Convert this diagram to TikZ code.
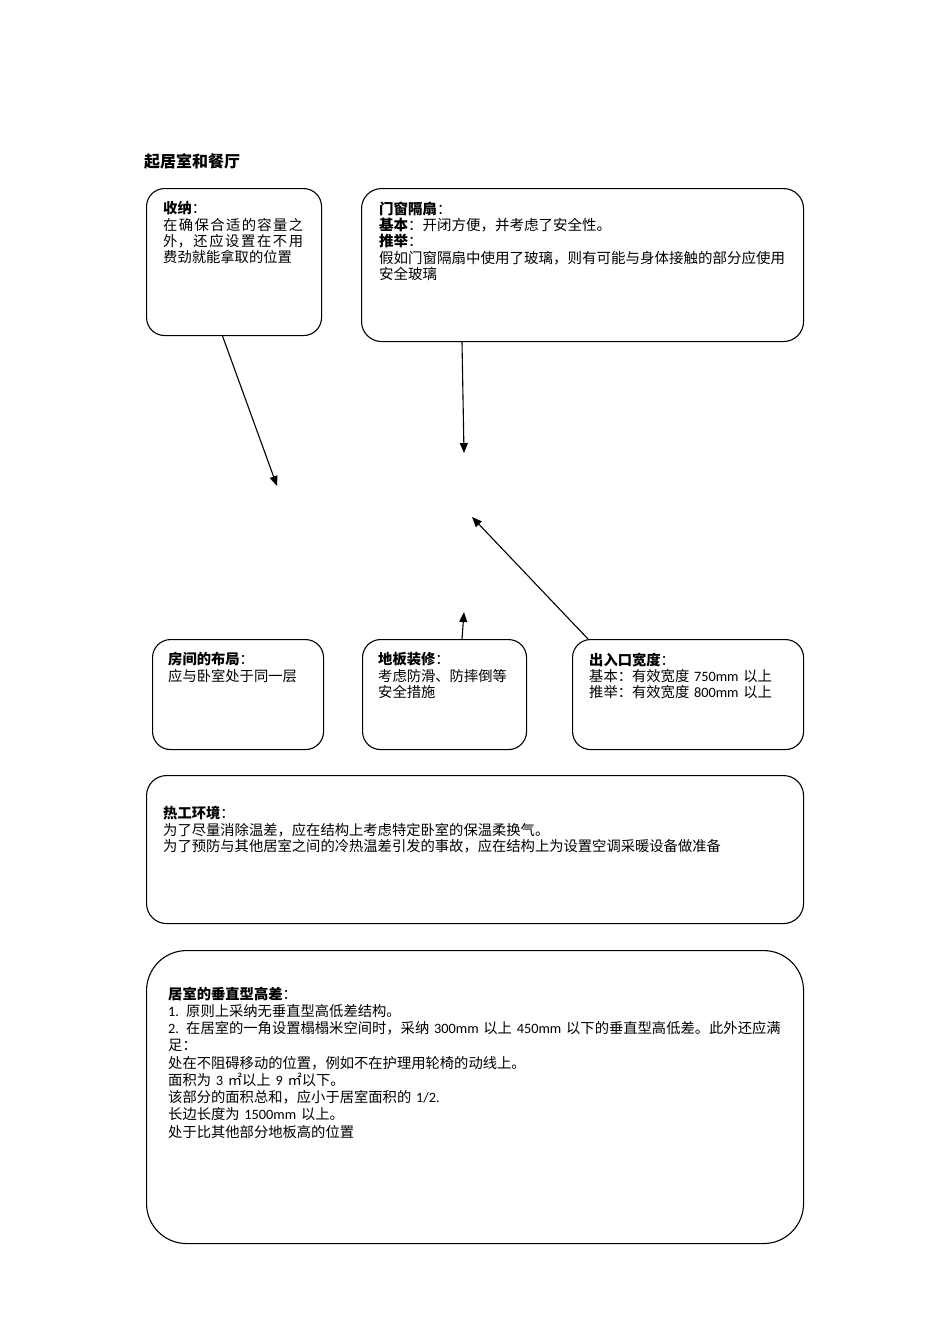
\documentclass[tikz,border=0pt]{standalone}
\usepackage{fontspec}
\setmainfont{Noto Sans CJK SC}
\newfontfamily\latinface{Carlito}
\XeTeXlinebreaklocale "zh"
\XeTeXlinebreakskip=0pt plus 3pt
\usetikzlibrary{arrows.meta}
\newcommand{\lt}[1]{{\latinface #1}}
\tikzset{
  card/.style={draw, line width=1.1pt, rounded corners=18pt, inner sep=0pt, anchor=north west},
  note/.style={inner sep=0pt, anchor=north west, align=left, font=\fontsize{14.3}{16.3}\selectfont},
  link/.style={line width=1.1pt, -{Triangle[length=10pt,width=8pt]}}
}
\begin{document}
\begin{tikzpicture}[x=1pt,y=-1pt]
\useasboundingbox (0,0) rectangle (950,1344);
\node[inner sep=0pt, anchor=west, font=\fontsize{16}{18}\selectfont\bfseries] (title) at (144,161) {起居室和餐厅};
\node[card, minimum width=175pt, minimum height=147pt] (storage) at (146,188) {};
\node[card, rounded corners=20pt, minimum width=442pt, minimum height=153pt] (door) at (361,188) {};
\node[card, minimum width=171pt, minimum height=110pt] (layout) at (152,639) {};
\node[card, minimum width=164pt, minimum height=110pt] (floor) at (362,639) {};
\node[card, minimum width=231pt, minimum height=110pt] (entry) at (572,639) {};
\node[card, rounded corners=20pt, minimum width=657pt, minimum height=148pt] (thermal) at (146,775) {};
\node[card, rounded corners=40pt, minimum width=657pt, minimum height=293pt] (level) at (146,950) {};
\node[note, text width=140pt, align=justify] (storage text) at ([xshift=17pt,yshift=-13.4pt]storage.north west) {\textbf{收纳}：\\在确保合适的容量之外，还应设置在不用费劲就能拿取的位置};
\node[note, text width=420pt, font=\fontsize{14.5}{16.3}\selectfont] (door text) at ([xshift=18pt,yshift=-13.4pt]door.north west) {\textbf{门窗隔扇}：\\\textbf{基本}：开闭方便，并考虑了安全性。\\\textbf{推举}：\\假如门窗隔扇中使用了玻璃，则有可能与身体接触的部分应使用\\安全玻璃};
\node[note, text width=150pt] (layout text) at ([xshift=16pt,yshift=-13.4pt]layout.north west) {\textbf{房间的布局}：\\应与卧室处于同一层};
\node[note, text width=140pt] (floor text) at ([xshift=16pt,yshift=-13.4pt]floor.north west) {\textbf{地板装修}：\\考虑防滑、防摔倒等\\安全措施};
\node[note, text width=205pt] (entry text) at ([xshift=17pt,yshift=-13.4pt]entry.north west) {\textbf{出入口宽度}：\\基本：有效宽度 \lt{750mm} 以上\\推举：有效宽度 \lt{800mm} 以上};
\node[note, text width=620pt] (thermal text) at ([xshift=17pt,yshift=-31.4pt]thermal.north west) {\textbf{热工环境}：\\为了尽量消除温差，应在结构上考虑特定卧室的保温柔换气。\\为了预防与其他居室之间的冷热温差引发的事故，应在结构上为设置空调采暖设备做准备};
\node[note, text width=625pt, font=\fontsize{14.3}{17.25}\selectfont] (level text) at ([xshift=22pt,yshift=-36.4pt]level.north west) {\textbf{居室的垂直型高差}：\\\lt{1.} 原则上采纳无垂直型高低差结构。\\\lt{2.} 在居室的一角设置榻榻米空间时，采纳 \lt{300mm} 以上 \lt{450mm} 以下的垂直型高低差。此外还应满\\足：\\处在不阻碍移动的位置，例如不在护理用轮椅的动线上。\\面积为 \lt{3} ㎡以上 \lt{9} ㎡以下。\\该部分的面积总和，应小于居室面积的 \lt{1/2.}\\长边长度为 \lt{1500mm} 以上。\\处于比其他部分地板高的位置};
\coordinate (storage end) at (277,486);
\coordinate (door end) at (464,453);
\coordinate (entry end) at (472,517);
\coordinate (floor end) at (464,612);
\draw[link] ([xshift=-11.5pt]storage.south) -- (storage end);
\draw[link] ([xshift=101pt]door.south west) -- (door end);
\draw[link] ([xshift=16pt]entry.north west) -- (entry end);
\draw[link] ([xshift=100pt]floor.north west) -- (floor end);
\end{tikzpicture}
\end{document}
